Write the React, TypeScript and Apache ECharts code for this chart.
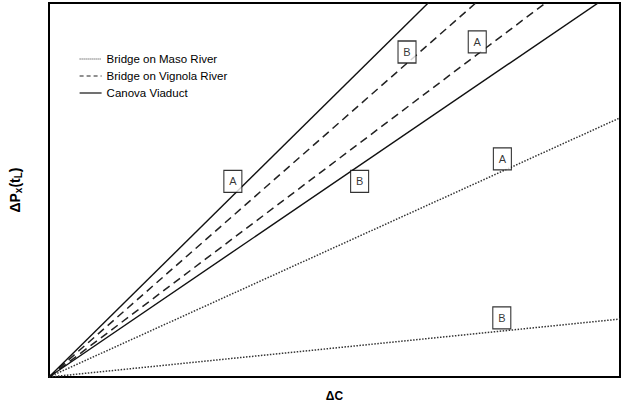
import React, { useEffect, useRef } from "react";
import * as echarts from "echarts";

// x domain (arbitrary units, no tick labels in the reference)
const xPoints = [0, 10];

// series values at each x point (lines start at the origin)
const masoA = [0, 6.93];
const masoB = [0, 1.55];
const vignolaA = [0, 11.5];
const vignolaB = [0, 13.38];
const canovaA = [0, 15.06];
const canovaB = [0, 10.4];

// annotation boxes: [x, y, label]
const annotations: [number, number, string][] = [
  [3.22, 5.23, "A"],
  [5.44, 5.23, "B"],
  [6.27, 8.69, "B"],
  [7.5, 8.96, "A"],
  [7.94, 5.83, "A"],
  [7.93, 1.58, "B"],
];

const legendNames = ["Bridge on Maso River", "Bridge on Vignola River", "Canova Viaduct"];

const FONT = "'Liberation Sans', Arial, sans-serif";

function pairs(ys: number[]) {
  return xPoints.map((x, i) => [x, ys[i]]);
}

export default function App() {
  const ref = useRef<HTMLDivElement>(null);
  useEffect(() => {
    if (!ref.current) return;
    const chart = echarts.init(ref.current, undefined, { renderer: "svg" });
    const dotted = { color: "#333", width: 1.5, type: [1.5, 1.5] as any };
    const dashed = { color: "#222", width: 1.5, type: [8, 5] as any };
    const solid = { color: "#111", width: 1.4, type: "solid" as any };
    const mk = (name: string, ys: number[], ls: any) => ({
      name,
      type: "line",
      data: pairs(ys),
      symbol: "none",
      clip: true,
      lineStyle: ls,
      itemStyle: { color: ls.color },
      z: 2,
    });
    chart.setOption({
      animation: false,
      backgroundColor: "#fff",
      grid: {
        left: 46,
        right: 4,
        top: 3,
        bottom: 32,
        show: true,
        borderColor: "#000",
        borderWidth: 2,
        backgroundColor: "transparent",
      },
      legend: {
        data: [
          { name: legendNames[0], lineStyle: { type: [1, 1], width: 1.2 } },
          { name: legendNames[1], lineStyle: { type: [4, 3], width: 1.2 } },
          { name: legendNames[2], lineStyle: { type: "solid", width: 1.2 } },
        ],
        orient: "vertical",
        left: 74,
        top: 48,
        itemGap: 5,
        itemWidth: 22,
        itemHeight: 12,
        itemStyle: { opacity: 0 },
        lineStyle: { width: 1.2 },
        textStyle: { fontFamily: FONT, fontSize: 11.5, color: "#000" },
        selectedMode: false,
      },
      xAxis: {
        type: "value",
        min: 0,
        max: 10,
        axisLine: { show: false },
        axisTick: { show: false },
        axisLabel: { show: false },
        splitLine: { show: false },
        name: "ΔC",
        nameLocation: "middle",
        nameGap: 13,
        nameTextStyle: { fontFamily: FONT, fontSize: 12, fontWeight: "bold", color: "#000" },
      },
      yAxis: {
        type: "value",
        min: 0,
        max: 10,
        axisLine: { show: false },
        axisTick: { show: false },
        axisLabel: { show: false },
        splitLine: { show: false },
        name: "ΔP{sub|x}(t{sub|L})",
        nameLocation: "middle",
        nameGap: 26,
        nameRotate: 90,
        nameTextStyle: {
          fontFamily: FONT,
          fontSize: 14,
          fontWeight: "bold",
          color: "#000",
          rich: {
            sub: {
              fontFamily: FONT,
              fontSize: 10,
              fontWeight: "bold",
              color: "#000",
              padding: [6, 0, 0, 0],
            },
          },
        },
      },
      series: [
        mk(legendNames[0], masoA, dotted),
        { ...mk(legendNames[0], masoB, dotted) },
        mk(legendNames[1], vignolaA, dashed),
        mk(legendNames[1], vignolaB, dashed),
        mk(legendNames[2], canovaA, solid),
        mk(legendNames[2], canovaB, solid),
        {
          type: "scatter",
          data: annotations.map((a) => [a[0], a[1], a[2]]),
          symbol: "rect",
          symbolSize: [18, 22],
          itemStyle: { color: "#fff", borderColor: "#000", borderWidth: 1.2 },
          label: {
            show: true,
            position: "inside",
            formatter: (p: any) => p.value[2],
            fontFamily: FONT,
            fontSize: 11,
            color: "#000",
          },
          z: 5,
          silent: true,
        },
      ],
    });
    return () => chart.dispose();
  }, []);
  return <div ref={ref} style={{ width: 624, height: 409, position: "absolute", left: 0, top: 0 }} />;
}
